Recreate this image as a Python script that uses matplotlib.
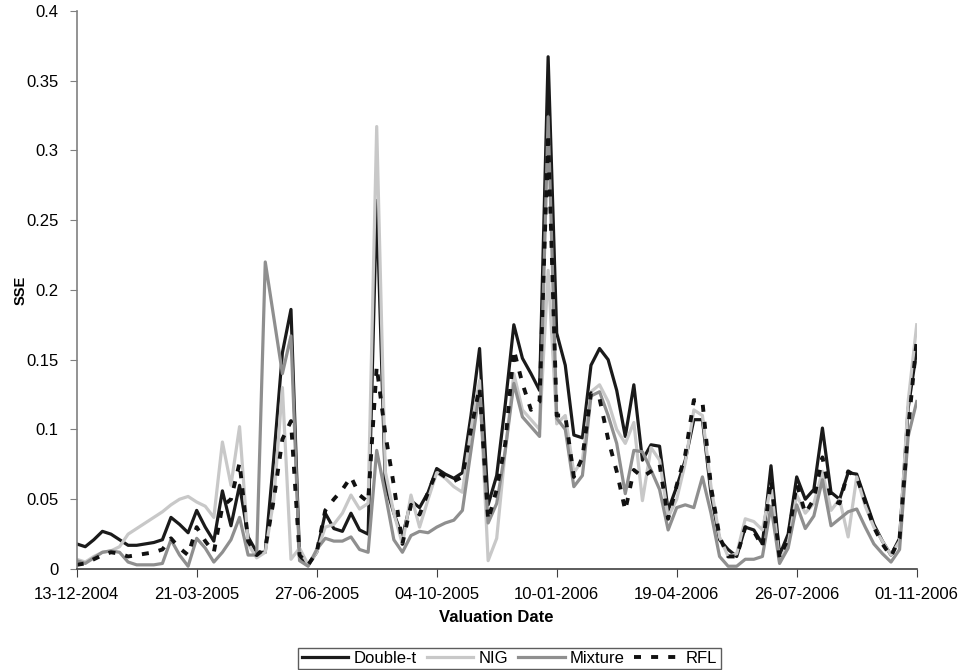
import numpy as np
import matplotlib
matplotlib.use("Agg")
import matplotlib.pyplot as plt

plt.rcParams.update({
    "font.family": ["Liberation Sans", "DejaVu Sans"],
    "font.size": 12,
})

# weekly valuation dates (only every 14th one is labelled on the axis)
tick_labels = ["13-12-2004", "21-03-2005", "27-06-2005", "04-10-2005",
               "10-01-2006", "19-04-2006", "26-07-2006", "01-11-2006"]

double_t = [
    0.018, 0.016, 0.021, 0.027, 0.025, 0.021, 0.017, 0.017, 0.018, 0.019,
    0.021, 0.037, 0.032, 0.026, 0.042, 0.030, 0.020, 0.056, 0.031, 0.060,
    0.023, 0.012, 0.012, 0.080, 0.155, 0.186, 0.008, 0.003, 0.012, 0.040,
    0.029, 0.027, 0.040, 0.028, 0.025, 0.264, 0.061, 0.040, 0.023, 0.049,
    0.044, 0.055, 0.072, 0.068, 0.065, 0.069, 0.110, 0.158, 0.046, 0.067,
    0.118, 0.175, 0.151, 0.140, 0.128, 0.367, 0.169, 0.146, 0.096, 0.094,
    0.146, 0.158, 0.150, 0.128, 0.095, 0.132, 0.078, 0.089, 0.088, 0.042,
    0.059, 0.078, 0.107, 0.107, 0.054, 0.021, 0.014, 0.009, 0.030, 0.028,
    0.018, 0.074, 0.010, 0.025, 0.066, 0.050, 0.057, 0.101, 0.055, 0.050,
    0.069, 0.068, 0.050, 0.032, 0.020, 0.010, 0.022, 0.115, 0.157,
]

nig = [
    0.007, 0.005, 0.009, 0.012, 0.013, 0.016, 0.025, 0.029, 0.033, 0.037,
    0.041, 0.046, 0.050, 0.052, 0.048, 0.045, 0.037, 0.091, 0.060, 0.102,
    0.018, 0.008, 0.012, 0.050, 0.130, 0.007, 0.015, 0.003, 0.012, 0.030,
    0.032, 0.040, 0.053, 0.043, 0.047, 0.317, 0.070, 0.040, 0.018, 0.053,
    0.030, 0.050, 0.069, 0.065, 0.059, 0.055, 0.100, 0.135, 0.006, 0.022,
    0.085, 0.140, 0.114, 0.107, 0.100, 0.214, 0.104, 0.110, 0.069, 0.078,
    0.127, 0.132, 0.120, 0.100, 0.090, 0.105, 0.049, 0.087, 0.078, 0.037,
    0.050, 0.076, 0.114, 0.110, 0.059, 0.023, 0.009, 0.011, 0.036, 0.034,
    0.028, 0.060, 0.005, 0.018, 0.053, 0.040, 0.047, 0.070, 0.042, 0.050,
    0.023, 0.066, 0.045, 0.030, 0.020, 0.010, 0.020, 0.120, 0.175,
]

mixture = [
    0.006, 0.004, 0.008, 0.012, 0.013, 0.012, 0.005, 0.003, 0.003, 0.003,
    0.004, 0.021, 0.010, 0.002, 0.022, 0.015, 0.005, 0.012, 0.021, 0.037,
    0.010, 0.010, 0.220, 0.180, 0.140, 0.167, 0.006, 0.002, 0.014, 0.022,
    0.020, 0.020, 0.023, 0.014, 0.012, 0.085, 0.054, 0.021, 0.012, 0.024,
    0.027, 0.026, 0.030, 0.033, 0.035, 0.042, 0.085, 0.128, 0.033, 0.047,
    0.085, 0.133, 0.109, 0.102, 0.095, 0.324, 0.108, 0.100, 0.059, 0.067,
    0.124, 0.127, 0.110, 0.090, 0.054, 0.085, 0.084, 0.071, 0.057, 0.028,
    0.044, 0.046, 0.044, 0.066, 0.040, 0.009, 0.002, 0.002, 0.007, 0.007,
    0.009, 0.045, 0.004, 0.015, 0.046, 0.029, 0.038, 0.064, 0.031, 0.036,
    0.041, 0.043, 0.030, 0.018, 0.011, 0.005, 0.014, 0.095, 0.120,
]

rfl = [
    0.003, 0.004, 0.007, 0.010, 0.012, 0.011, 0.009, 0.010, 0.011, 0.012,
    0.014, 0.022, 0.015, 0.010, 0.030, 0.020, 0.012, 0.045, 0.050, 0.076,
    0.020, 0.010, 0.015, 0.050, 0.093, 0.106, 0.010, 0.003, 0.012, 0.042,
    0.050, 0.057, 0.066, 0.053, 0.048, 0.145, 0.097, 0.060, 0.018, 0.046,
    0.039, 0.055, 0.070, 0.066, 0.063, 0.066, 0.100, 0.130, 0.035, 0.057,
    0.090, 0.157, 0.133, 0.114, 0.120, 0.312, 0.110, 0.110, 0.066, 0.080,
    0.126, 0.122, 0.093, 0.070, 0.042, 0.071, 0.066, 0.070, 0.075, 0.036,
    0.060, 0.082, 0.121, 0.120, 0.059, 0.023, 0.009, 0.009, 0.030, 0.027,
    0.016, 0.064, 0.008, 0.022, 0.061, 0.040, 0.050, 0.080, 0.050, 0.047,
    0.070, 0.066, 0.048, 0.030, 0.018, 0.009, 0.022, 0.100, 0.164,
]

x = np.arange(len(double_t))

fig = plt.figure(figsize=(9.67, 6.70), dpi=100)
ax = fig.add_axes([0.0793, 0.1507, 0.8687, 0.8333])

ax.plot(x, double_t, color="#1a1a1a", lw=2.3, label="Double-t")
ax.plot(x, nig, color="#c8c8c8", lw=2.3, label="NIG")
ax.plot(x, mixture, color="#8f8f8f", lw=2.3, label="Mixture")
ax.plot(x, rfl, color="#111111", lw=2.8, linestyle=(0, (1.8, 2.6)), label="RFL")

ax.set_xlim(0, len(x) - 1)
ax.set_ylim(0, 0.4)
ax.set_yticks(np.arange(0, 0.401, 0.05))
ax.set_yticklabels(["0", "0.05", "0.1", "0.15", "0.2", "0.25", "0.3", "0.35", "0.4"])
ax.set_xticks(np.arange(0, len(x), 14))
ax.set_xticklabels(tick_labels)

for side in ("top", "right"):
    ax.spines[side].set_visible(False)
ax.spines["left"].set_color("#808080")
ax.spines["bottom"].set_color("#404040")
ax.spines["left"].set_linewidth(1.2)
ax.spines["bottom"].set_linewidth(1.2)
ax.tick_params(axis="y", direction="out", length=5, color="#808080", pad=8)
ax.tick_params(axis="x", direction="out", length=6, color="#404040", pad=7)

# axis titles
fig.text(0.021, 0.567, "SSE", rotation=90, fontweight="bold", fontsize=10.5,
         ha="center", va="center")
ax.set_xlabel("Valuation Date", fontweight="bold", fontsize=12, labelpad=6)

leg = fig.legend(loc="center", bbox_to_anchor=(0.527, 0.017), ncol=4,
                 frameon=True, fancybox=False, edgecolor="#333333",
                 handlelength=2.8, handletextpad=0.3, columnspacing=0.6,
                 borderpad=0.2, borderaxespad=0)
leg.get_frame().set_linewidth(1.0)

fig.savefig("out.png", dpi=100)
